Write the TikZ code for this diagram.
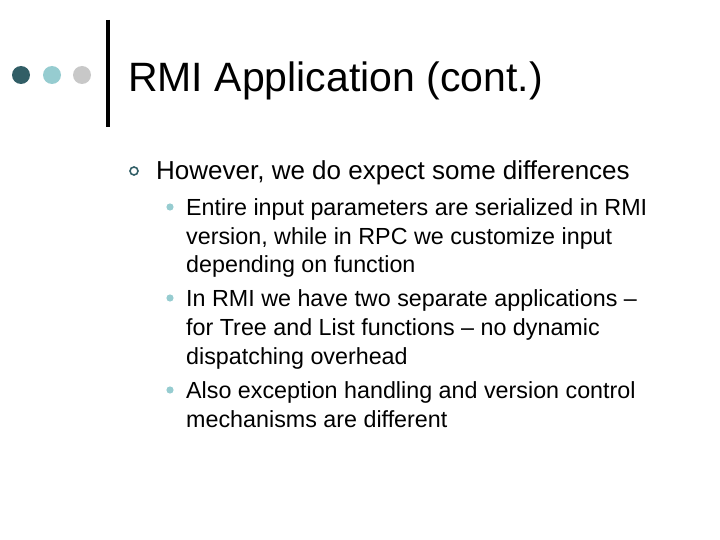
\documentclass[tikz,border=0pt]{standalone}
\usepackage{fontspec}
\setmainfont{Liberation Sans}
\definecolor{darkteal}{RGB}{49,94,102}
\definecolor{lightteal}{RGB}{150,204,208}
\definecolor{lightgray}{RGB}{200,200,200}
\tikzset{
  txt/.style={anchor=base west, inner sep=0pt},
  subtxt/.style={txt, font=\fontsize{23.3}{29}\selectfont},
  subdot/.style={fill=lightteal, draw=none}
}
\begin{document}
\begin{tikzpicture}[x=1pt,y=-1pt]
\useasboundingbox (0,0) rectangle (720,540);

% header dots and bar
\fill[darkteal] (21,75) circle (9);
\fill[lightteal] (52,75) circle (9);
\fill[lightgray] (82,75) circle (9);
\draw[line width=3.5pt] (108,20) -- (108,127);
\node[txt, font=\fontsize{41}{44}\selectfont] (title) at (128,92) {RMI Application (cont.)};

% first level
\draw[darkteal, line width=1.6pt] (134,171) circle (4);
\node[txt, font=\fontsize{26}{30}\selectfont] (lvl1) at (156,180) {However, we do expect some differences};

% second level
\fill[subdot] (170,207) circle (3.6);
\node[subtxt] (itemA1) at (186,215) {Entire input parameters are serialized in RMI};
\node[subtxt] (itemA2) at (186,244) {version, while in RPC we customize input};
\node[subtxt] (itemA3) at (186,272) {depending on function};
\fill[subdot] (170,298) circle (3.6);
\node[subtxt] (itemB1) at (186,306) {In RMI we have two separate applications --};
\node[subtxt] (itemB2) at (186,335) {for Tree and List functions -- no dynamic};
\node[subtxt] (itemB3) at (186,364) {dispatching overhead};
\fill[subdot] (170,390) circle (3.6);
\node[subtxt] (itemC1) at (186,398) {Also exception handling and version control};
\node[subtxt] (itemC2) at (186,427) {mechanisms are different};
\end{tikzpicture}
\end{document}
